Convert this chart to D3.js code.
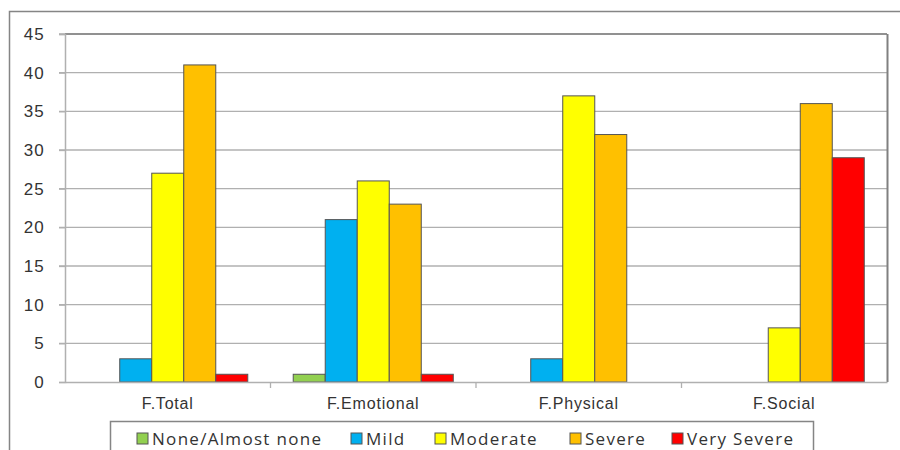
<!DOCTYPE html>
<html>
<head>
<meta charset="utf-8">
<script src="https://cdn.jsdelivr.net/npm/d3@7"></script>
<style>
  body { margin: 0; background: #fff; }
  svg { font-family: "Open Sans", Lato, sans-serif; }
</style>
</head>
<body>
<div id="chart"></div>
<script>
// data
const categories = ["F.Total", "F.Emotional", "F.Physical", "F.Social"];
const seriesNames = ["None/Almost none", "Mild", "Moderate", "Severe", "Very Severe"];
const seriesColors = ["#92d050", "#00b0f0", "#ffff00", "#ffc000", "#ff0000"];
const noneValues = [0, 1, 0, 0];
const mildValues = [3, 21, 3, 0];
const moderateValues = [27, 26, 37, 7];
const severeValues = [41, 23, 32, 36];
const verySevereValues = [1, 1, 0, 29];
const yTicks = [0, 5, 10, 15, 20, 25, 30, 35, 40, 45];

const seriesValues = [noneValues, mildValues, moderateValues, severeValues, verySevereValues];

const width = 900, height = 450;
const plot = { left: 65, top: 34, right: 887, bottom: 382 };

const svg = d3.select("#chart").append("svg")
  .attr("width", width)
  .attr("height", height);

// outer chart border
svg.append("rect")
  .attr("x", 9.5).attr("y", 11.5)
  .attr("width", 900).attr("height", 460)
  .attr("fill", "#fff")
  .attr("stroke", "#858585")
  .attr("stroke-width", 1.5);

const x0 = d3.scaleBand().domain(categories).range([plot.left, plot.right]);
const x1 = d3.scaleBand().domain(seriesNames)
  .range([0, x0.bandwidth()])
  .paddingInner(0)
  .paddingOuter(0.71);
const y = d3.scaleLinear().domain([0, 45]).range([plot.bottom, plot.top]);

// gridlines
svg.append("g")
  .selectAll("line")
  .data(yTicks.slice(1))
  .enter()
  .append("line")
  .attr("x1", plot.left - 6).attr("x2", plot.right)
  .attr("y1", d => y(d)).attr("y2", d => y(d))
  .attr("stroke", "#b0b0b0")
  .attr("stroke-width", 1.3);

// plot area border (top/right a bit darker)
svg.append("line")
  .attr("x1", plot.left).attr("x2", plot.right)
  .attr("y1", plot.top).attr("y2", plot.top)
  .attr("stroke", "#808080").attr("stroke-width", 1.5);
svg.append("line")
  .attr("x1", plot.right + 0.5).attr("x2", plot.right + 0.5)
  .attr("y1", plot.top).attr("y2", plot.bottom)
  .attr("stroke", "#808080").attr("stroke-width", 2);

// y axis
const yAxis = svg.append("g")
  .attr("transform", `translate(${plot.left},0)`)
  .call(d3.axisLeft(y).tickValues(yTicks).tickSize(6).tickPadding(14));
yAxis.select(".domain").attr("stroke", "#b0b0b0").attr("stroke-width", 1.5);
yAxis.selectAll(".tick line").attr("stroke", "#b0b0b0").attr("stroke-width", 1.3);
yAxis.selectAll("text")
  .attr("font-size", 17).attr("fill", "#333")
  .attr("letter-spacing", 1.2);

// bars
const groups = svg.append("g")
  .selectAll("g")
  .data(categories)
  .enter()
  .append("g")
  .attr("transform", d => `translate(${x0(d)},0)`);

groups.selectAll("rect")
  .data((c, i) => seriesNames.map((s, k) => ({ s: s, v: seriesValues[k][i], color: seriesColors[k] })))
  .enter()
  .append("rect")
  .filter(d => d.v > 0)
  .attr("x", d => x1(d.s))
  .attr("y", d => y(d.v))
  .attr("width", x1.bandwidth())
  .attr("height", d => y(0) - y(d.v))
  .attr("fill", d => d.color)
  .attr("stroke", "#555")
  .attr("stroke-width", 1);

// x axis
const xAxis = svg.append("g")
  .attr("transform", `translate(0,${plot.bottom})`)
  .call(d3.axisBottom(x0).tickSize(0).tickPadding(16));
xAxis.select(".domain").attr("stroke", "#b0b0b0").attr("stroke-width", 1.5);
xAxis.selectAll("text")
  .attr("font-size", 16).attr("fill", "#333")
  .attr("letter-spacing", 0.8);

// tick marks between categories
svg.append("g")
  .selectAll("line")
  .data(categories.slice(1))
  .enter()
  .append("line")
  .attr("x1", d => x0(d)).attr("x2", d => x0(d))
  .attr("y1", plot.bottom).attr("y2", plot.bottom + 6)
  .attr("stroke", "#b0b0b0").attr("stroke-width", 1.3);

// legend
const legend = svg.append("g");
legend.append("rect")
  .attr("x", 110.5).attr("y", 421.5)
  .attr("width", 703).attr("height", 40)
  .attr("fill", "#fff")
  .attr("stroke", "#858585")
  .attr("stroke-width", 1.5);

const legendX = [137, 351, 435, 570, 672];
const items = legend.selectAll("g.item")
  .data(seriesNames)
  .enter()
  .append("g")
  .attr("class", "item")
  .attr("transform", (d, i) => `translate(${legendX[i]},433)`);
items.append("rect")
  .attr("width", 11).attr("height", 11)
  .attr("fill", (d, i) => seriesColors[i])
  .attr("stroke", "#555");
items.append("text")
  .attr("x", 15).attr("y", 12)
  .attr("font-size", 17)
  .attr("fill", "#333")
  .attr("letter-spacing", 1.3)
  .text(d => d);
</script>
</body>
</html>
